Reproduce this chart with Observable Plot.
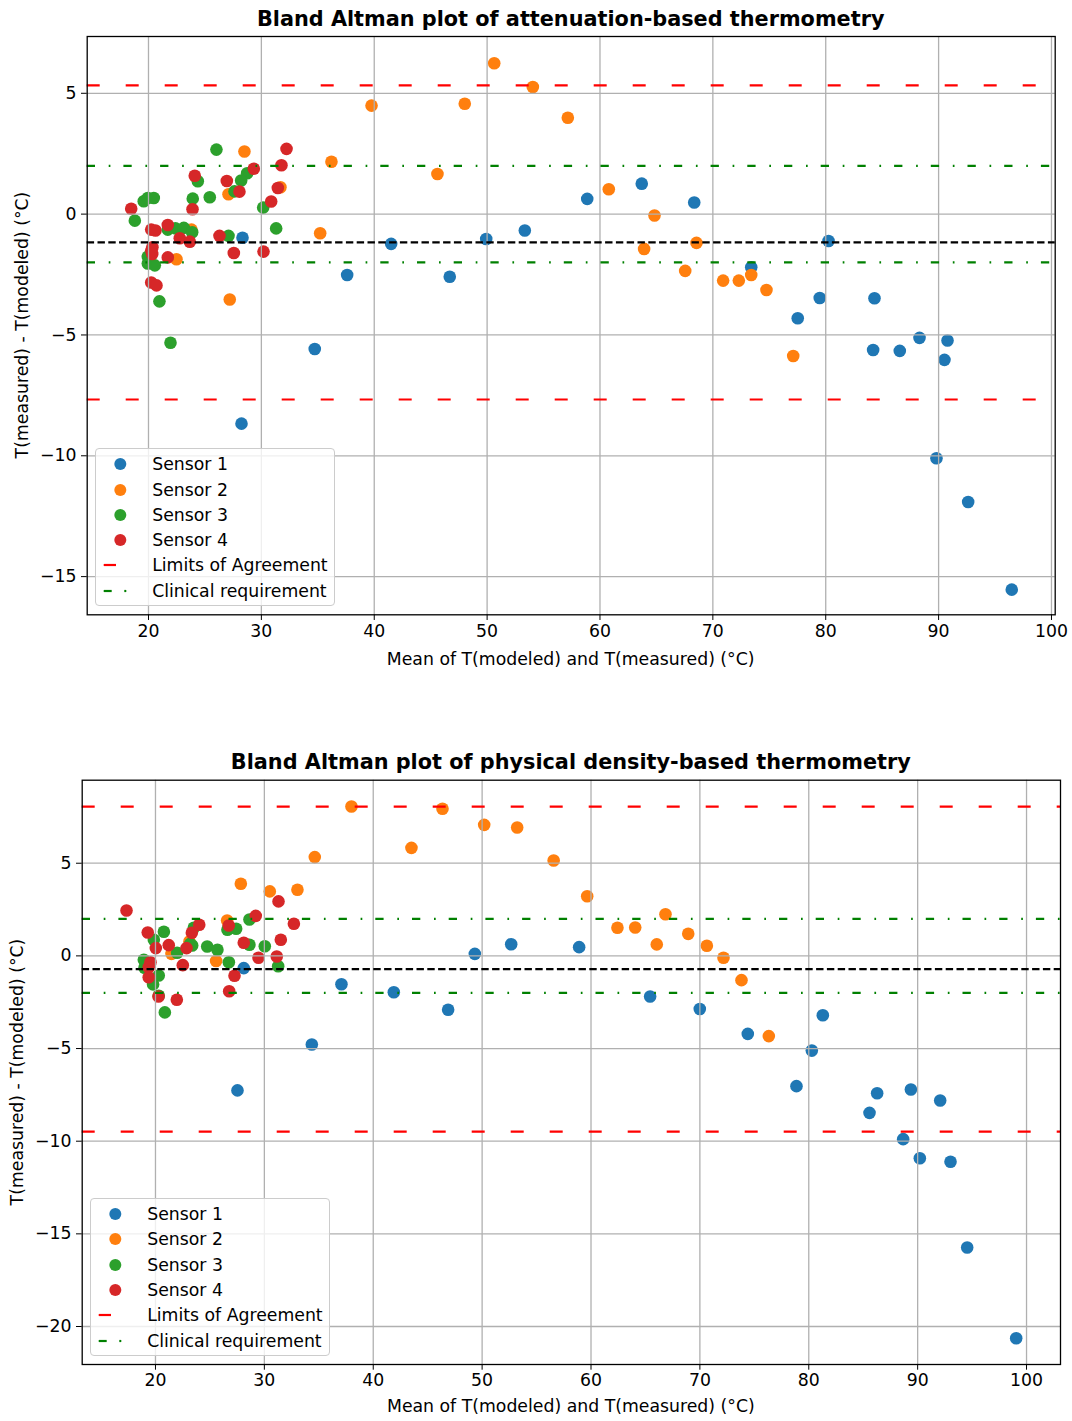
<!DOCTYPE html>
<html>
<head>
<meta charset="utf-8">
<script src="https://cdn.jsdelivr.net/npm/d3@7"></script>
<script src="https://cdn.jsdelivr.net/npm/@observablehq/plot@0.6"></script>
<style>
  html, body { margin: 0; padding: 0; background: #fff; }
  #page { position: relative; width: 1072px; height: 1421px; font-family: "DejaVu Sans", sans-serif; color: #000; overflow: hidden; }
  .panel { position: absolute; left: 0; }
  .title { position: absolute; font-weight: bold; font-size: 20.8px; white-space: nowrap; transform: translate(-50%, -50%); }
  .xlabel { position: absolute; font-size: 17.3px; white-space: nowrap; transform: translate(-50%, -50%); }
  .ylabel { position: absolute; font-size: 17.3px; white-space: nowrap; transform: translate(-50%, -50%) rotate(-90deg); }
  .legend { position: absolute; width: 240px; height: 158px; box-sizing: border-box; border: 1.3px solid #cccccc; border-radius: 4px; background: rgba(255,255,255,0.8); }
  .legend .entry { position: absolute; left: 0; font-size: 17.3px; white-space: nowrap; }
  .legend svg { position: absolute; left: 0; overflow: visible; }
  .legend .lbl { position: absolute; left: 56px; transform: translateY(-50%); }
</style>
</head>
<body>
<div id="page"></div>
<script>
// ---- Attenuation-based thermometry: mean vs difference per sensor ----
const attS1Mean = [28.33, 28.24, 34.73, 37.60, 41.50, 46.69, 49.92, 53.34, 58.87, 63.70, 68.35, 73.40, 80.25, 79.47, 77.52, 84.32, 84.20, 86.56, 88.31, 90.79, 90.52, 89.81, 92.62, 96.48];
const attS1Diff = [-0.98, -8.67, -5.58, -2.52, -1.23, -2.59, -1.03, -0.68, 0.63, 1.26, 0.48, -2.20, -1.11, -3.47, -4.31, -3.48, -5.62, -5.66, -5.12, -5.23, -6.03, -10.10, -11.91, -15.54];
const attS2Mean = [50.63, 54.05, 39.76, 48.02, 57.15, 36.21, 45.60, 60.78, 64.83, 35.21, 63.91, 68.55, 67.55, 70.91, 72.30, 73.40, 74.75, 77.12, 28.50, 31.69, 27.09, 23.81, 22.48, 27.20];
const attS2Diff = [6.24, 5.26, 4.49, 4.57, 3.99, 2.17, 1.66, 1.03, -0.06, -0.79, -1.44, -1.19, -2.35, -2.75, -2.75, -2.52, -3.14, -5.87, 2.59, 1.11, 0.82, -0.64, -1.87, -3.53];
const attS3Mean = [26.02, 28.74, 28.21, 27.62, 25.43, 23.92, 19.58, 19.94, 20.47, 24.37, 30.16, 18.79, 31.31, 21.71, 22.39, 23.13, 23.87, 27.09, 19.94, 19.94, 20.56, 20.97, 21.95];
const attS3Diff = [2.67, 1.69, 1.39, 0.94, 0.70, 0.64, 0.53, 0.67, 0.67, 1.36, 0.27, -0.27, -0.59, -0.64, -0.59, -0.57, -0.75, -0.90, -1.76, -2.04, -2.12, -3.61, -5.32];
const attS4Mean = [32.23, 31.78, 29.33, 24.10, 26.94, 31.46, 28.06, 30.87, 18.47, 23.90, 21.71, 20.24, 20.62, 22.77, 23.66, 26.29, 20.35, 20.24, 20.33, 21.71, 27.56, 30.19, 20.24, 20.71];
const attS4Diff = [2.70, 2.02, 1.88, 1.59, 1.37, 1.08, 0.93, 0.52, 0.22, 0.20, -0.45, -0.64, -0.68, -1.00, -1.14, -0.90, -1.37, -1.51, -1.65, -1.79, -1.61, -1.55, -2.83, -2.95];
const attBias = -1.17;
const attLimits = [5.33, -7.67];

// ---- Physical density-based thermometry ----
const denS1Mean = [34.36, 37.08, 41.89, 46.88, 49.33, 52.67, 58.91, 65.43, 69.99, 74.40, 81.29, 80.28, 78.87, 86.28, 89.38, 92.07, 85.58, 88.67, 90.20, 93.02, 94.55, 99.05, 27.53, 28.11];
const denS1Diff = [-4.78, -1.53, -1.96, -2.91, 0.11, 0.63, 0.47, -2.19, -2.87, -4.21, -3.20, -5.11, -7.03, -7.41, -7.21, -7.80, -8.47, -9.89, -10.92, -11.11, -15.74, -20.63, -7.26, -0.66];
const denS2Mean = [33.04, 34.63, 38.00, 43.51, 46.36, 50.19, 53.22, 56.57, 59.65, 62.43, 64.06, 66.84, 66.04, 68.93, 70.64, 72.17, 73.82, 76.33, 27.84, 30.50, 26.58, 23.12, 21.47, 25.57];
const denS2Diff = [3.57, 5.33, 8.06, 5.83, 7.94, 7.07, 6.93, 5.15, 3.22, 1.52, 1.53, 2.25, 0.62, 1.19, 0.55, -0.10, -1.31, -4.33, 3.89, 3.48, 1.91, 0.78, 0.11, -0.28];
const denS3Mean = [28.63, 27.41, 26.61, 20.77, 19.85, 23.37, 24.75, 25.69, 28.63, 30.04, 26.74, 31.27, 21.99, 18.93, 18.99, 20.30, 19.78, 20.30, 20.86, 23.52, 23.19];
const denS3Diff = [1.96, 1.46, 1.41, 1.30, 0.87, 0.56, 0.51, 0.33, 0.60, 0.52, -0.34, -0.56, 0.17, -0.21, -0.64, -1.06, -1.54, -2.15, -3.05, 1.52, 0.65];
const denS4Mean = [17.34, 19.29, 20.03, 21.22, 22.85, 23.34, 24.02, 26.73, 29.21, 31.30, 32.71, 31.51, 28.11, 29.46, 31.14, 22.51, 19.54, 19.38, 19.38, 27.26, 26.77, 20.28, 21.96];
const denS4Diff = [2.45, 1.26, 0.42, 0.58, 0.42, 1.25, 1.68, 1.64, 2.16, 2.94, 1.73, 0.87, 0.71, -0.10, -0.03, -0.50, -0.34, -0.61, -1.15, -1.07, -1.91, -2.19, -2.37];
const denBias = -0.72;
const denLimits = [8.05, -9.48];

const clinicalLimits = [2, -2];
const sensorNames = ["Sensor 1", "Sensor 2", "Sensor 3", "Sensor 4"];
const sensorColors = ["#1f77b4", "#ff7f0e", "#2ca02c", "#d62728"];
const xTicks = [20, 30, 40, 50, 60, 70, 80, 90, 100];

const page = document.getElementById("page");

function toRows(means, diffs, sensor) {
  return means.map((m, i) => ({mean: m, diff: diffs[i], sensor}));
}

function panel(cfg) {
  const rows = cfg.series.flatMap(([m, d], i) => toRows(m, d, sensorNames[i]));
  const chart = Plot.plot({
    width: 1072,
    height: cfg.height,
    marginLeft: cfg.frame.left,
    marginRight: 1072 - cfg.frame.right,
    marginTop: cfg.frame.top - cfg.top,
    marginBottom: cfg.top + cfg.height - cfg.frame.bottom,
    style: {fontFamily: "DejaVu Sans", fontSize: "17.3px", color: "#000", background: "transparent"},
    x: {domain: cfg.xDomain},
    y: {domain: cfg.yDomain},
    color: {domain: sensorNames, range: sensorColors},
    marks: [
      Plot.dot(rows, {x: "mean", y: "diff", fill: "sensor", r: 6.3, stroke: null}),
      Plot.gridX(xTicks, {stroke: "#b0b0b0", strokeOpacity: 1, strokeWidth: 1.3}),
      Plot.gridY(cfg.yTicks, {stroke: "#b0b0b0", strokeOpacity: 1, strokeWidth: 1.3}),
      Plot.ruleY([cfg.bias], {stroke: "#000", strokeWidth: 2.2, strokeDasharray: "7.4 3.4"}),
      Plot.ruleY(cfg.limits, {stroke: "#ff0000", strokeWidth: 2.2, strokeDasharray: "13 26"}),
      Plot.ruleY(clinicalLimits, {stroke: "#008000", strokeWidth: 2.2, strokeDasharray: "8.3 13.7 1.7 13"}),
      Plot.axisX(xTicks, {tickSize: 5.7, tickPadding: 4, label: null, tickFormat: d => String(d)}),
      Plot.axisY(cfg.yTicks, {tickSize: 5.7, tickPadding: 5, label: null}),
      Plot.frame({stroke: "#000", strokeWidth: 1.3})
    ]
  });
  const holder = document.createElement("div");
  holder.className = "panel";
  holder.style.top = cfg.top + "px";
  holder.appendChild(chart);
  page.appendChild(holder);

  const cx = (cfg.frame.left + cfg.frame.right) / 2;
  const cy = (cfg.frame.top + cfg.frame.bottom) / 2;

  const title = document.createElement("div");
  title.className = "title";
  title.textContent = cfg.title;
  title.style.left = cx + "px";
  title.style.top = cfg.titleY + "px";
  page.appendChild(title);

  const xl = document.createElement("div");
  xl.className = "xlabel";
  xl.textContent = "Mean of T(modeled) and T(measured) (°C)";
  xl.style.left = cx + "px";
  xl.style.top = cfg.xLabelY + "px";
  page.appendChild(xl);

  const yl = document.createElement("div");
  yl.className = "ylabel";
  yl.textContent = "T(measured) - T(modeled) (°C)";
  yl.style.left = cfg.yLabelX + "px";
  yl.style.top = cy + "px";
  page.appendChild(yl);

  // legend in the lower-left corner of the axes
  const lg = document.createElement("div");
  lg.className = "legend";
  lg.style.left = (cfg.frame.left + 8.5) + "px";
  lg.style.top = (cfg.frame.bottom - 8.5 - 158) + "px";
  const entries = [
    ...sensorNames.map((n, i) => ({label: n, kind: "dot", color: sensorColors[i]})),
    {label: "Limits of Agreement", kind: "loa"},
    {label: "Clinical requirement", kind: "clin"}
  ];
  entries.forEach((e, i) => {
    const y = 15.5 + i * 25.3;
    let handle;
    if (e.kind === "dot") handle = `<circle cx="24.3" cy="0" r="6" fill="${e.color}"/>`;
    else if (e.kind === "loa") handle = `<line x1="7.7" x2="20" y1="0" y2="0" stroke="#ff0000" stroke-width="2.2"/>`;
    else handle = `<line x1="7.7" x2="15.7" y1="0" y2="0" stroke="#008000" stroke-width="2.2"/><line x1="28.3" x2="30.3" y1="0" y2="0" stroke="#008000" stroke-width="2.2"/>`;
    const div = document.createElement("div");
    div.className = "entry";
    div.style.top = y + "px";
    div.innerHTML = `<svg width="40" height="1" style="top:0">${handle}</svg><span class="lbl">${e.label}</span>`;
    lg.appendChild(div);
  });
  page.appendChild(lg);
}

panel({
  title: "Bland Altman plot of attenuation-based thermometry",
  top: 0, height: 680,
  frame: {left: 86.7, right: 1054.7, top: 36, bottom: 614.3},
  xDomain: [14.57, 100.33], yDomain: [-16.58, 7.35],
  yTicks: [-15, -10, -5, 0, 5],
  series: [[attS1Mean, attS1Diff], [attS2Mean, attS2Diff], [attS3Mean, attS3Diff], [attS4Mean, attS4Diff]],
  bias: attBias, limits: attLimits,
  titleY: 19, xLabelY: 659, yLabelX: 22
});

panel({
  title: "Bland Altman plot of physical density-based thermometry",
  top: 700, height: 721,
  frame: {left: 81.7, right: 1060, top: 779.7, bottom: 1364},
  xDomain: [13.27, 103.12], yDomain: [-22.05, 9.48],
  yTicks: [-20, -15, -10, -5, 0, 5],
  series: [[denS1Mean, denS1Diff], [denS2Mean, denS2Diff], [denS3Mean, denS3Diff], [denS4Mean, denS4Diff]],
  bias: denBias, limits: denLimits,
  titleY: 762, xLabelY: 1406, yLabelX: 17
});
</script>
</body>
</html>
